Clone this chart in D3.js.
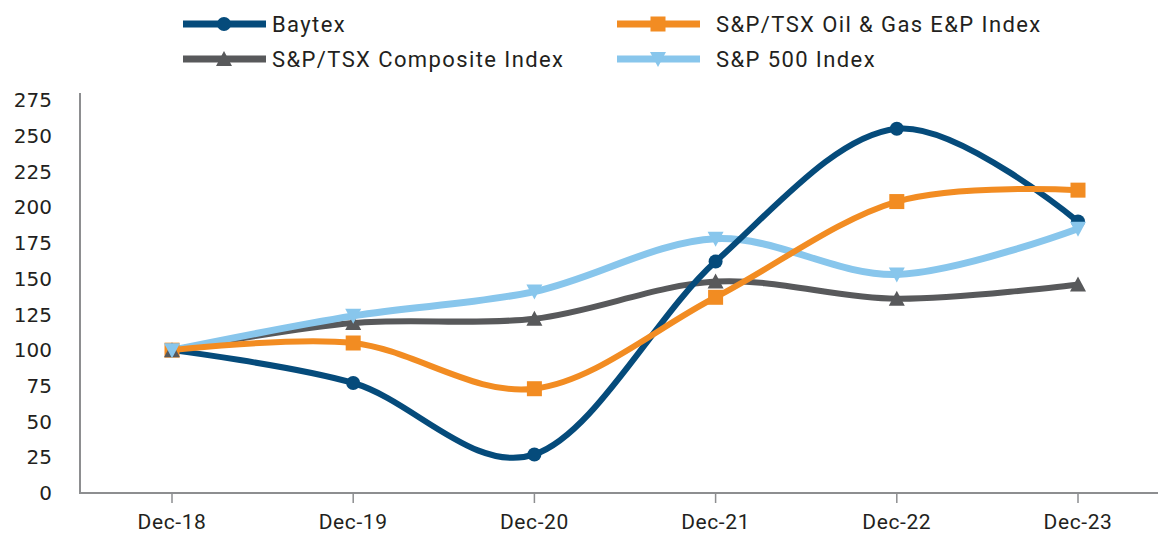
<!DOCTYPE html>
<html>
<head>
<meta charset="utf-8">
<script src="https://cdn.jsdelivr.net/npm/d3@7/dist/d3.min.js"></script>
<style>
  body { margin: 0; background: #fff; }
  svg { display: block; }
</style>
</head>
<body>
<div id="chart"></div>
<script>
// data
const categories = ['Dec-18', 'Dec-19', 'Dec-20', 'Dec-21', 'Dec-22', 'Dec-23'];
const baytex = [100, 77, 27, 162, 255, 190];
const oilGas = [100, 105, 73, 137, 204, 212];
const composite = [100, 119, 122, 148, 136, 146];
const sp500 = [100, 124, 141, 178, 153, 185];
const yTicks = [0, 25, 50, 75, 100, 125, 150, 175, 200, 225, 250, 275];

const series = [
    { name: 'Baytex', values: baytex, color: '#054b7b', marker: 'circle', width: 6 },
    { name: 'S&P/TSX Oil & Gas E&P Index', values: oilGas, color: '#f28c22', marker: 'square', width: 6 },
    { name: 'S&P/TSX Composite Index', values: composite, color: '#58595b', marker: 'triangle', width: 6 },
    { name: 'S&P 500 Index', values: sp500, color: '#88c6ec', marker: 'triangleDown', width: 7 },
];

const width = 1158, height = 533;
const svg = d3.select('#chart').append('svg')
    .attr('width', width)
    .attr('height', height);

const x = d3.scalePoint()
    .domain(categories)
    .range([172, 1078]);

const y = d3.scaleLinear()
    .domain([0, 280])
    .range([493, 93]);

const axisColor = '#8d8e90';
const textColor = '#231f20';

// y axis: line + labels only
svg.append('line')
    .attr('x1', 80).attr('x2', 80)
    .attr('y1', y(280)).attr('y2', y(0))
    .attr('stroke', axisColor).attr('stroke-width', 2);

svg.append('g')
    .selectAll('text')
    .data(yTicks)
    .join('text')
    .attr('x', 52)
    .attr('y', (d) => y(d))
    .attr('dy', '0.36em')
    .attr('text-anchor', 'end')
    .style('font-family', '"DejaVu Sans", sans-serif')
    .style('font-size', '20px')
    .style('fill', textColor)
    .text((d) => d);

// x axis
svg.append('line')
    .attr('x1', 79).attr('x2', width)
    .attr('y1', y(0)).attr('y2', y(0))
    .attr('stroke', axisColor).attr('stroke-width', 2);

svg.append('g')
    .selectAll('line')
    .data(categories)
    .join('line')
    .attr('x1', (d) => x(d)).attr('x2', (d) => x(d))
    .attr('y1', y(0)).attr('y2', y(0) + 10)
    .attr('stroke', axisColor).attr('stroke-width', 1.5);

svg.append('g')
    .selectAll('text')
    .data(categories)
    .join('text')
    .attr('x', (d) => x(d))
    .attr('y', 529)
    .attr('text-anchor', 'middle')
    .style('font-family', 'Roboto, sans-serif')
    .style('font-size', '21px')
    .style('letter-spacing', '0.6px')
    .style('fill', textColor)
    .text((d) => d);

const line = d3.line()
    .x((d, i) => x(categories[i]))
    .y((d) => y(d))
    .curve(d3.curveCatmullRom.alpha(0));

function drawMarker(g, type, color, cx, cy) {
    if (type === 'circle') {
        g.append('circle').attr('cx', cx).attr('cy', cy).attr('r', 7).attr('fill', color);
    } else if (type === 'square') {
        g.append('rect').attr('x', cx - 7.5).attr('y', cy - 7.5)
            .attr('width', 15).attr('height', 15).attr('fill', color);
    } else if (type === 'triangle') {
        g.append('path')
            .attr('d', `M${cx},${cy - 8}L${cx + 8},${cy + 7}L${cx - 8},${cy + 7}Z`)
            .attr('fill', color);
    } else {
        g.append('path')
            .attr('d', `M${cx - 8},${cy - 7}L${cx + 8},${cy - 7}L${cx},${cy + 8}Z`)
            .attr('fill', color);
    }
}

// line stacking order as seen in the reference
const lineOrder = [2, 3, 0, 1];
const lines = svg.append('g');
lineOrder.forEach((k) => {
    const s = series[k];
    lines.append('path')
        .datum(s.values)
        .attr('d', line)
        .attr('fill', 'none')
        .attr('stroke', s.color)
        .attr('stroke-width', s.width)
        .attr('stroke-linejoin', 'round');
});

const markers = svg.append('g');
series.forEach((s) => {
    s.values.forEach((v, i) => drawMarker(markers, s.marker, s.color, x(categories[i]), y(v)));
});

// legend
const legendPos = [
    { lx: 183, tx: 272, ly: 24 },
    { lx: 617, tx: 716, ly: 24 },
    { lx: 183, tx: 272, ly: 59 },
    { lx: 617, tx: 716, ly: 59 },
];
const legend = svg.append('g');
series.forEach((s, i) => {
    const p = legendPos[i];
    legend.append('line')
        .attr('x1', p.lx).attr('x2', p.lx + 83)
        .attr('y1', p.ly).attr('y2', p.ly)
        .attr('stroke', s.color).attr('stroke-width', 7);
    drawMarker(legend, s.marker, s.color, p.lx + 41, p.ly);
    legend.append('text')
        .attr('x', p.tx)
        .attr('y', p.ly)
        .attr('dy', '0.36em')
        .style('font-family', 'Roboto, sans-serif')
        .style('font-size', '22px')
        .style('letter-spacing', '1.4px')
        .style('fill', textColor)
        .text(s.name);
});
</script>
</body>
</html>
